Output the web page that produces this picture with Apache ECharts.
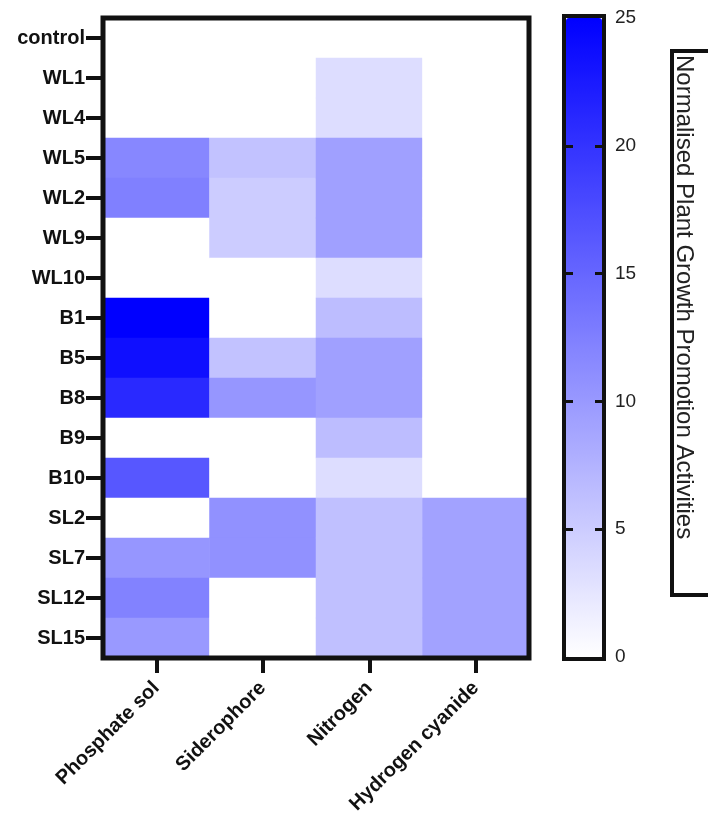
<!DOCTYPE html>
<html>
<head>
<meta charset="utf-8">
<script src="https://cdn.jsdelivr.net/npm/echarts@6/dist/echarts.min.js"></script>
<style>
  html, body { margin: 0; padding: 0; background: #ffffff; }
  #chart { width: 708px; height: 819px; }
</style>
</head>
<body>
<div id="chart"></div>
<script>
// Strains (rows, top to bottom) and assayed activities (columns)
const strains = ['control', 'WL1', 'WL4', 'WL5', 'WL2', 'WL9', 'WL10', 'B1', 'B5', 'B8', 'B9', 'B10', 'SL2', 'SL7', 'SL12', 'SL15'];
const activities = ['Phosphate sol', 'Siderophore', 'Nitrogen', 'Hydrogen cyanide'];

// Normalised activity per strain, one array per activity (order follows `strains`)
const phosphateSol    = [0, 0,   0,   11.8, 12.5, 0,   0,   25,  23.5, 21,   0,   16.5, 0,    10.3, 12.3, 10];
const siderophore     = [0, 0,   0,   6,    5,    5,   0,   0,   6,    10.3, 0,   0,    10.8, 10.8, 0,    0];
const nitrogen        = [0, 3.3, 3.3, 9.3,  9.3,  9.3, 3.3, 6.5, 9.3,  9.3,  6.5, 3.3,  6.2,  6.2,  6.2,  6.2];
const hydrogenCyanide = [0, 0,   0,   0,    0,    0,   0,   0,   0,    0,    0,   0,    9.1,  9.1,  9.1,  9.1];

// Colour scale range, label step and the inner tick marks on the colour bar
const scaleMin = 0;
const scaleMax = 25;
const scaleStep = 5;
const scaleInnerTicks = [5, 10, 15, 20];

const axisTitle = 'Normalised Plant Growth Promotion Activities';

const columns = [phosphateSol, siderophore, nitrogen, hydrogenCyanide];
const cells = [];
columns.forEach((col, xi) => {
  col.forEach((v, yi) => cells.push([xi, yi, v]));
});

const FONT = '"Liberation Sans", Arial, Helvetica, sans-serif';
const INK = '#111111';

const chart = echarts.init(document.getElementById('chart'), null, { renderer: 'canvas' });

chart.setOption({
  backgroundColor: '#ffffff',
  animation: false,
  grid: [
    { left: 103, top: 18, width: 426, height: 640, containLabel: false },
    { left: 566, top: 18, width: 36, height: 639, containLabel: false }
  ],
  xAxis: [
    {
      type: 'category',
      gridIndex: 0,
      data: activities,
      position: 'bottom',
      axisLine: { show: false },
      axisTick: { show: true, alignWithLabel: true, inside: false, length: 15, lineStyle: { color: INK, width: 4 } },
      axisLabel: {
        interval: 0, rotate: 45, margin: 27,
        fontFamily: FONT, fontWeight: 'bold', fontSize: 20, color: INK
      },
      splitLine: { show: false }
    },
    {
      type: 'value', gridIndex: 1, min: 0, max: 1, show: false
    }
  ],
  yAxis: [
    {
      type: 'category',
      gridIndex: 0,
      data: strains,
      inverse: true,
      axisLine: { show: false },
      axisTick: { show: true, alignWithLabel: true, inside: false, length: 17, lineStyle: { color: INK, width: 4 } },
      axisLabel: {
        interval: 0, margin: 18,
        fontFamily: FONT, fontWeight: 'bold', fontSize: 20, color: INK
      },
      splitLine: { show: false }
    },
    {
      type: 'value',
      gridIndex: 1,
      position: 'right',
      z: 20,
      min: scaleMin, max: scaleMax, interval: scaleStep,
      axisLine: { show: false, onZero: false },
      axisTick: { show: true, inside: true, length: 7, customValues: scaleInnerTicks, lineStyle: { color: INK, width: 3 } },
      axisLabel: { margin: 13, fontFamily: FONT, fontSize: 19, color: '#222222' },
      splitLine: { show: false }
    },
    {
      type: 'value',
      gridIndex: 1,
      position: 'left',
      z: 20,
      min: scaleMin, max: scaleMax, interval: scaleStep,
      axisLine: { show: false, onZero: false },
      axisTick: { show: true, inside: true, length: 7, customValues: scaleInnerTicks, lineStyle: { color: INK, width: 3 } },
      axisLabel: { show: false },
      splitLine: { show: false }
    }
  ],
  visualMap: {
    type: 'continuous',
    seriesIndex: 0,
    min: scaleMin,
    max: scaleMax,
    calculable: false,
    orient: 'vertical',
    left: 566,
    top: 18,
    itemWidth: 36,
    itemHeight: 639,
    padding: 0,
    z: 4,
    text: null,
    inRange: { color: ['#ffffff', '#0000ff'] }
  },
  series: [
    {
      type: 'heatmap',
      xAxisIndex: 0,
      yAxisIndex: 0,
      data: cells,
      itemStyle: { borderWidth: 0 },
      emphasis: { disabled: true }
    }
  ],
  graphic: [
    // heatmap frame
    {
      type: 'rect', z: 100, silent: true,
      shape: { x: 103, y: 18, width: 426, height: 640 },
      style: { fill: 'none', stroke: INK, lineWidth: 5 }
    },
    // colour bar frame
    {
      type: 'rect', z: 100, silent: true,
      shape: { x: 564, y: 16, width: 40, height: 643 },
      style: { fill: 'none', stroke: INK, lineWidth: 4 }
    },
    // colour bar title box
    {
      type: 'rect', z: 100, silent: true,
      shape: { x: 672, y: 51, width: 80, height: 544 },
      style: { fill: 'none', stroke: INK, lineWidth: 4 }
    },
    {
      type: 'text', z: 101, silent: true,
      x: 684, y: 55, rotation: -Math.PI / 2,
      style: {
        text: axisTitle,
        font: '24px ' + FONT,
        fill: '#222222',
        textAlign: 'left',
        textVerticalAlign: 'middle',
        align: 'left',
        verticalAlign: 'middle'
      }
    }
  ]
});
</script>
</body>
</html>
